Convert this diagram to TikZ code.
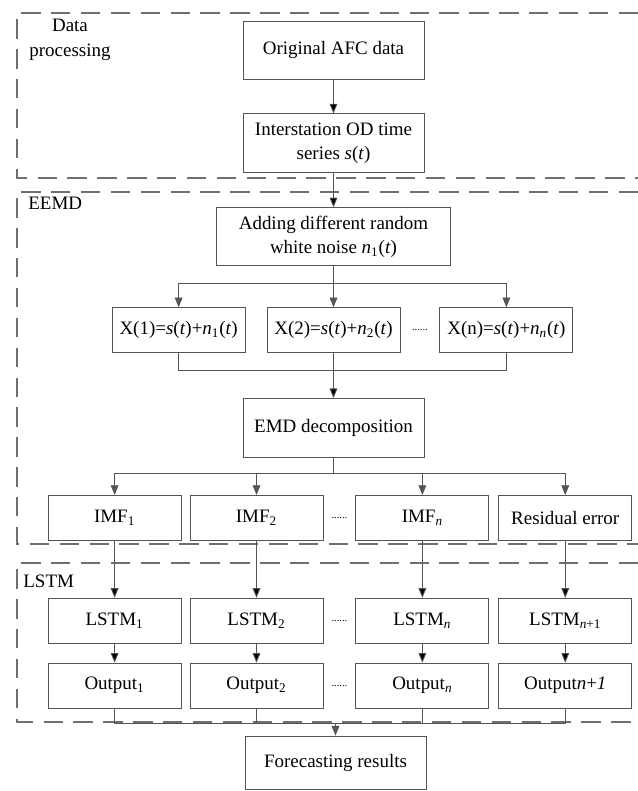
\documentclass[tikz,border=0pt]{standalone}
\usepackage{fontspec}
\setmainfont{Liberation Serif}
\usetikzlibrary{positioning,arrows.meta,calc}
\definecolor{boxgray}{HTML}{555555}
\definecolor{framegray}{HTML}{707070}
\newcommand{\lowsub}[1]{\textsubscript{\fontsize{7.5}{8}\selectfont #1}}
\tikzset{
  block/.style={draw=boxgray, line width=0.5pt, minimum width=3.62cm, minimum height=1.16cm, inner sep=1pt, align=center},
  small block/.style={block, minimum width=2.66cm, minimum height=0.9cm},
  frame/.style={draw=framegray, line width=0.7pt, dash pattern=on 11pt off 6pt},
  link/.style={draw=boxgray, line width=0.5pt},
  arr/.style={link, -{Triangle[length=5.5pt,width=4.4pt]}},
  dots/.style={inner sep=0pt, font=\fontsize{6}{7}\selectfont},
  tag/.style={inner sep=0pt, align=center}
}

\begin{document}
\begin{tikzpicture}[every node/.append style={font=\fontsize{10.8}{14}\selectfont}]
\useasboundingbox (0,0) rectangle (12.76,-15.82);

\draw[frame] (12.76,-0.26) -- (0.34,-0.26) -- (0.34,-3.56) -- (12.76,-3.56);
\draw[frame] (12.76,-3.84) -- (0.34,-3.84) -- (0.34,-10.88) -- (12.76,-10.88);
\draw[frame] (12.76,-11.26) -- (0.34,-11.26) -- (0.34,-14.44) -- (12.76,-14.44);

\node[tag] (lab_data) at (1.4,-0.8) {Data\\processing};
\node[tag, anchor=west] (lab_eemd) at (0.56,-4.06) {EEMD};
\node[tag, anchor=west] (lab_lstm) at (0.46,-11.62) {LSTM};

\node[block] (afc) at (6.67,-1.0) {Original AFC data};
\node[block, minimum height=1.18cm] (ods) [below=0.68cm of afc] {Interstation OD time\\series \textit{s}(\textit{t})};
\node[block, minimum width=4.68cm] (noise) [below=0.68cm of ods] {Adding different random\\white noise \textit{n}\lowsub{1}(\textit{t})};
\node[small block] (x_2) [below=0.82cm of noise] {X(2)=\textit{s}(\textit{t})+\textit{n}\lowsub{2}(\textit{t})};
\node[small block] (x_1) [left=0.42cm of x_2] {X(1)=\textit{s}(\textit{t})+\textit{n}\lowsub{1}(\textit{t})};
\node[small block] (x_n) [right=0.78cm of x_2] {X(n)=\textit{s}(\textit{t})+\textit{n}\lowsub{\textit{n}}(\textit{t})};
\node[block, minimum height=1.18cm] (emd) [below=0.9cm of x_2] {EMD decomposition};
\node[small block] (imf_2) [below=0.74cm of emd, xshift=-1.54cm] {IMF\lowsub{2}};
\node[small block] (imf_1) [left=0.16cm of imf_2] {IMF\lowsub{1}};
\node[small block] (imf_n) [right=0.64cm of imf_2] {IMF\lowsub{\textit{n}}};
\node[small block] (res) [right=0.18cm of imf_n] {Residual error};
\node[small block] (lstm_1) [below=1.14cm of imf_1] {LSTM\lowsub{1}};
\node[small block] (lstm_2) [below=1.14cm of imf_2] {LSTM\lowsub{2}};
\node[small block] (lstm_n) [below=1.14cm of imf_n] {LSTM\lowsub{\textit{n}}};
\node[small block] (lstm_r) [below=1.14cm of res] {LSTM\lowsub{\textit{n}+1}};
\node[small block] (out_1) [below=0.38cm of lstm_1] {Output\lowsub{1}};
\node[small block] (out_2) [below=0.38cm of lstm_2] {Output\lowsub{2}};
\node[small block] (out_n) [below=0.38cm of lstm_n] {Output\lowsub{\textit{n}}};
\node[small block] (out_r) [below=0.38cm of lstm_r] {Output\textit{n}+\textit{1}};
\node[block, minimum height=1.06cm] (fore) at (6.71,-15.25) {Forecasting results};

\node[dots] (dots_x) at ($(x_2.east)!0.5!(x_n.west)$) {......};
\node[dots] (dots_imf) at ($(imf_2.east)!0.5!(imf_n.west)$) {......};
\node[dots] (dots_lstm) at ($(lstm_2.east)!0.5!(lstm_n.west)$) {......};
\node[dots] (dots_out) at ($(out_2.east)!0.5!(out_n.west)$) {......};

\path[arr]
  (afc) edge (ods)
  (ods) edge (noise)
  (x_2) edge (emd)
  (imf_1) edge (lstm_1)
  (imf_2) edge (lstm_2)
  (imf_n) edge (lstm_n)
  (res) edge (lstm_r)
  (lstm_1) edge (out_1)
  (lstm_2) edge (out_2)
  (lstm_n) edge (out_n)
  (lstm_r) edge (out_r);

\draw[link] (noise.south) -- ++(0,-0.34) coordinate (split_x);
\draw[arr] (split_x) -| (x_1.north);
\draw[arr] (split_x) -| (x_n.north);
\draw[arr] (split_x) -- (x_2.north);
\draw[link] (x_1.south) -- ++(0,-0.34) -| (x_n.south);

\draw[link] (emd.south) -- ++(0,-0.3) coordinate (split_imf);
\draw[arr] (split_imf) -| (imf_1.north);
\draw[arr] (split_imf) -| (imf_2.north);
\draw[arr] (split_imf) -| (imf_n.north);
\draw[arr] (split_imf) -| (res.north);

\draw[link] (out_1.south) -- ++(0,-0.3) coordinate (join_out) -| (out_r.south);
\draw[link] (out_2.south) -- (out_2.south |- join_out);
\draw[link] (out_n.south) -- (out_n.south |- join_out);
\draw[arr] (fore.north |- join_out) -- (fore.north);
\end{tikzpicture}
\end{document}
